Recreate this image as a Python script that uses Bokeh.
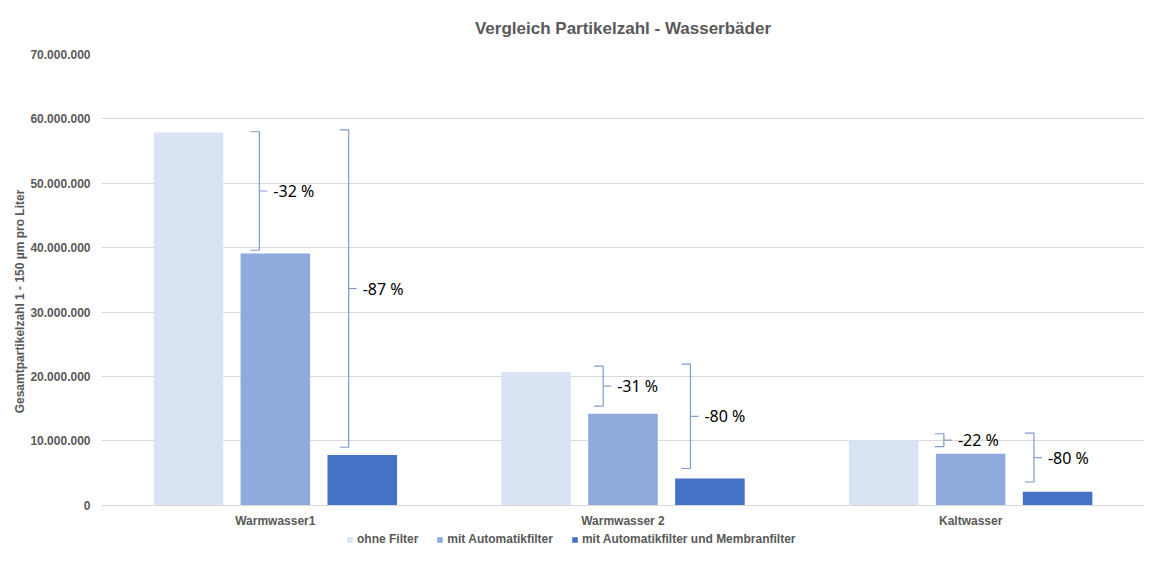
from bokeh.plotting import figure
from bokeh.models import (ColumnDataSource, FixedTicker, Legend, LegendItem, Title, Range1d)
from bokeh.core.properties import value
from bokeh.embed import file_html
from bokeh.resources import INLINE

# ---------------- data ----------------
categories = ["Warmwasser1", "Warmwasser 2", "Kaltwasser"]
series_names = ["ohne Filter", "mit Automatikfilter", "mit Automatikfilter und Membranfilter"]
ohne_filter = [57.9e6, 20.7e6, 10.1e6]
automatik = [39.1e6, 14.2e6, 8.0e6]
membran = [7.8e6, 4.15e6, 2.1e6]
y_ticks = [0, 10e6, 20e6, 30e6, 40e6, 50e6, 60e6, 70e6]
y_tick_labels = ["0", "10.000.000", "20.000.000", "30.000.000", "40.000.000",
                 "50.000.000", "60.000.000", "70.000.000"]

# reduction braces (category index, top value, bottom value, label)
brace_cat = [0, 0, 1, 1, 2, 2]
brace_top = [58.0e6, 58.3e6, 21.6e6, 21.9e6, 11.1e6, 11.2e6]
brace_bottom = [39.6e6, 9.0e6, 15.4e6, 5.7e6, 9.1e6, 3.6e6]
brace_labels = ["-32 %", "-87 %", "-31 %", "-80 %", "-22 %", "-80 %"]

# ---------------- styling ----------------
colors = ["#DAE3F3", "#8FAADC", "#4472C4"]
grey = "#595959"
grid = "#D9D9D9"
brace_color = "#7F9CCB"
FONT = "Liberation Sans"

W, H = 1144, 548
TOP, LEFT = 46, 101
FW = W - LEFT
PLOT_PX = 458          # pixels between 0 and 70 Mio
BELOW_PX = H - TOP - PLOT_PX  # room under the zero line for labels + legend
y_max = 70e6
y_min = -y_max * BELOW_PX / PLOT_PX

p = figure(width=W, height=H, x_range=Range1d(0, 3), y_range=Range1d(y_min, y_max),
           output_backend="svg", toolbar_location=None,
           min_border_left=LEFT, min_border_right=0, min_border_top=TOP,
           min_border_bottom=0)
p.outline_line_color = None
p.background_fill_color = "white"
p.border_fill_color = "white"

p.title = Title(text="Vergleich Partikelzahl - Wasserbäder", align="center",
                text_font=FONT, text_font_size="17px", text_font_style="bold",
                text_color=grey)
p.title.standoff = 33

# bars
offsets = [-0.25, 0.0, 0.25]
bar_w = 0.2
renderers = []
for i, vals in enumerate([ohne_filter, automatik, membran]):
    xs = [k + 0.5 + offsets[i] for k in range(len(categories))]
    src = ColumnDataSource(dict(x=xs, top=vals))
    r = p.vbar(x="x", top="top", width=bar_w, bottom=0, source=src,
               fill_color=colors[i], line_color=None)
    renderers.append(r)

# braces
px = 3.0 / FW  # data units per pixel horizontally
brace_offsets = [-0.046, 0.211, -0.057, 0.194, -0.077, 0.182]
xs_lines, ys_lines, tx, ty = [], [], [], []
for c, off, t, b in zip(brace_cat, brace_offsets, brace_top, brace_bottom):
    x0 = c + 0.5 + off
    mid = (t + b) / 2
    xs_lines.append([x0 - 9 * px, x0, x0, x0 - 9 * px])
    ys_lines.append([t, t, b, b])
    xs_lines.append([x0, x0 + 8 * px])
    ys_lines.append([mid, mid])
    tx.append(x0 + 14 * px)
    ty.append(mid)
p.multi_line(xs=xs_lines, ys=ys_lines, line_color=brace_color, line_width=1.2)
p.text(x=tx, y=ty, text=brace_labels, text_font=value("Noto Sans"),
       text_font_size="16px", text_baseline="middle", text_align="left",
       text_color="#000000")

# axes
p.yaxis.ticker = FixedTicker(ticks=y_ticks)
p.yaxis.major_label_overrides = {t: l for t, l in zip(y_ticks, y_tick_labels)}
p.yaxis.major_label_text_font = FONT
p.yaxis.major_label_text_font_size = "12px"
p.yaxis.major_label_text_font_style = "bold"
p.yaxis.major_label_text_color = grey
p.yaxis.major_label_standoff = 5
p.yaxis.axis_line_color = None
p.yaxis.major_tick_line_color = None
p.yaxis.minor_tick_line_color = None
p.yaxis.axis_label = "Gesamtpartikelzahl 1 - 150 µm pro Liter"
p.yaxis.axis_label_text_font = FONT
p.yaxis.axis_label_text_font_size = "12px"
p.yaxis.axis_label_text_font_style = "bold"
p.yaxis.axis_label_text_color = grey
p.yaxis.axis_label_standoff = 0

cat_ticks = [k + 0.5 for k in range(len(categories))]
p.xaxis.fixed_location = 0
p.xaxis.ticker = FixedTicker(ticks=cat_ticks)
p.xaxis.major_label_overrides = {t: l for t, l in zip(cat_ticks, categories)}
p.xaxis.major_label_text_font = FONT
p.xaxis.major_label_text_font_size = "12px"
p.xaxis.major_label_text_font_style = "bold"
p.xaxis.major_label_text_color = grey
p.xaxis.major_label_standoff = 3
p.xaxis.axis_line_color = grid
p.xaxis.major_tick_line_color = None
p.xaxis.minor_tick_line_color = None

p.xgrid.grid_line_color = None
p.ygrid.grid_line_color = grid
p.ygrid.ticker = FixedTicker(ticks=y_ticks)

legend = Legend(items=[LegendItem(label=n, renderers=[r]) for n, r in zip(series_names, renderers)],
                orientation="horizontal", location=(245, 2),
                label_text_font=FONT, label_text_font_size="12px",
                label_text_font_style="bold", label_text_color=grey,
                glyph_width=7, glyph_height=7, spacing=18, label_standoff=4,
                border_line_color=None, background_fill_alpha=0,
                padding=2, margin=0, label_height=12)
p.add_layout(legend, "center")

open("out.html", "w").write(file_html(p, INLINE))
